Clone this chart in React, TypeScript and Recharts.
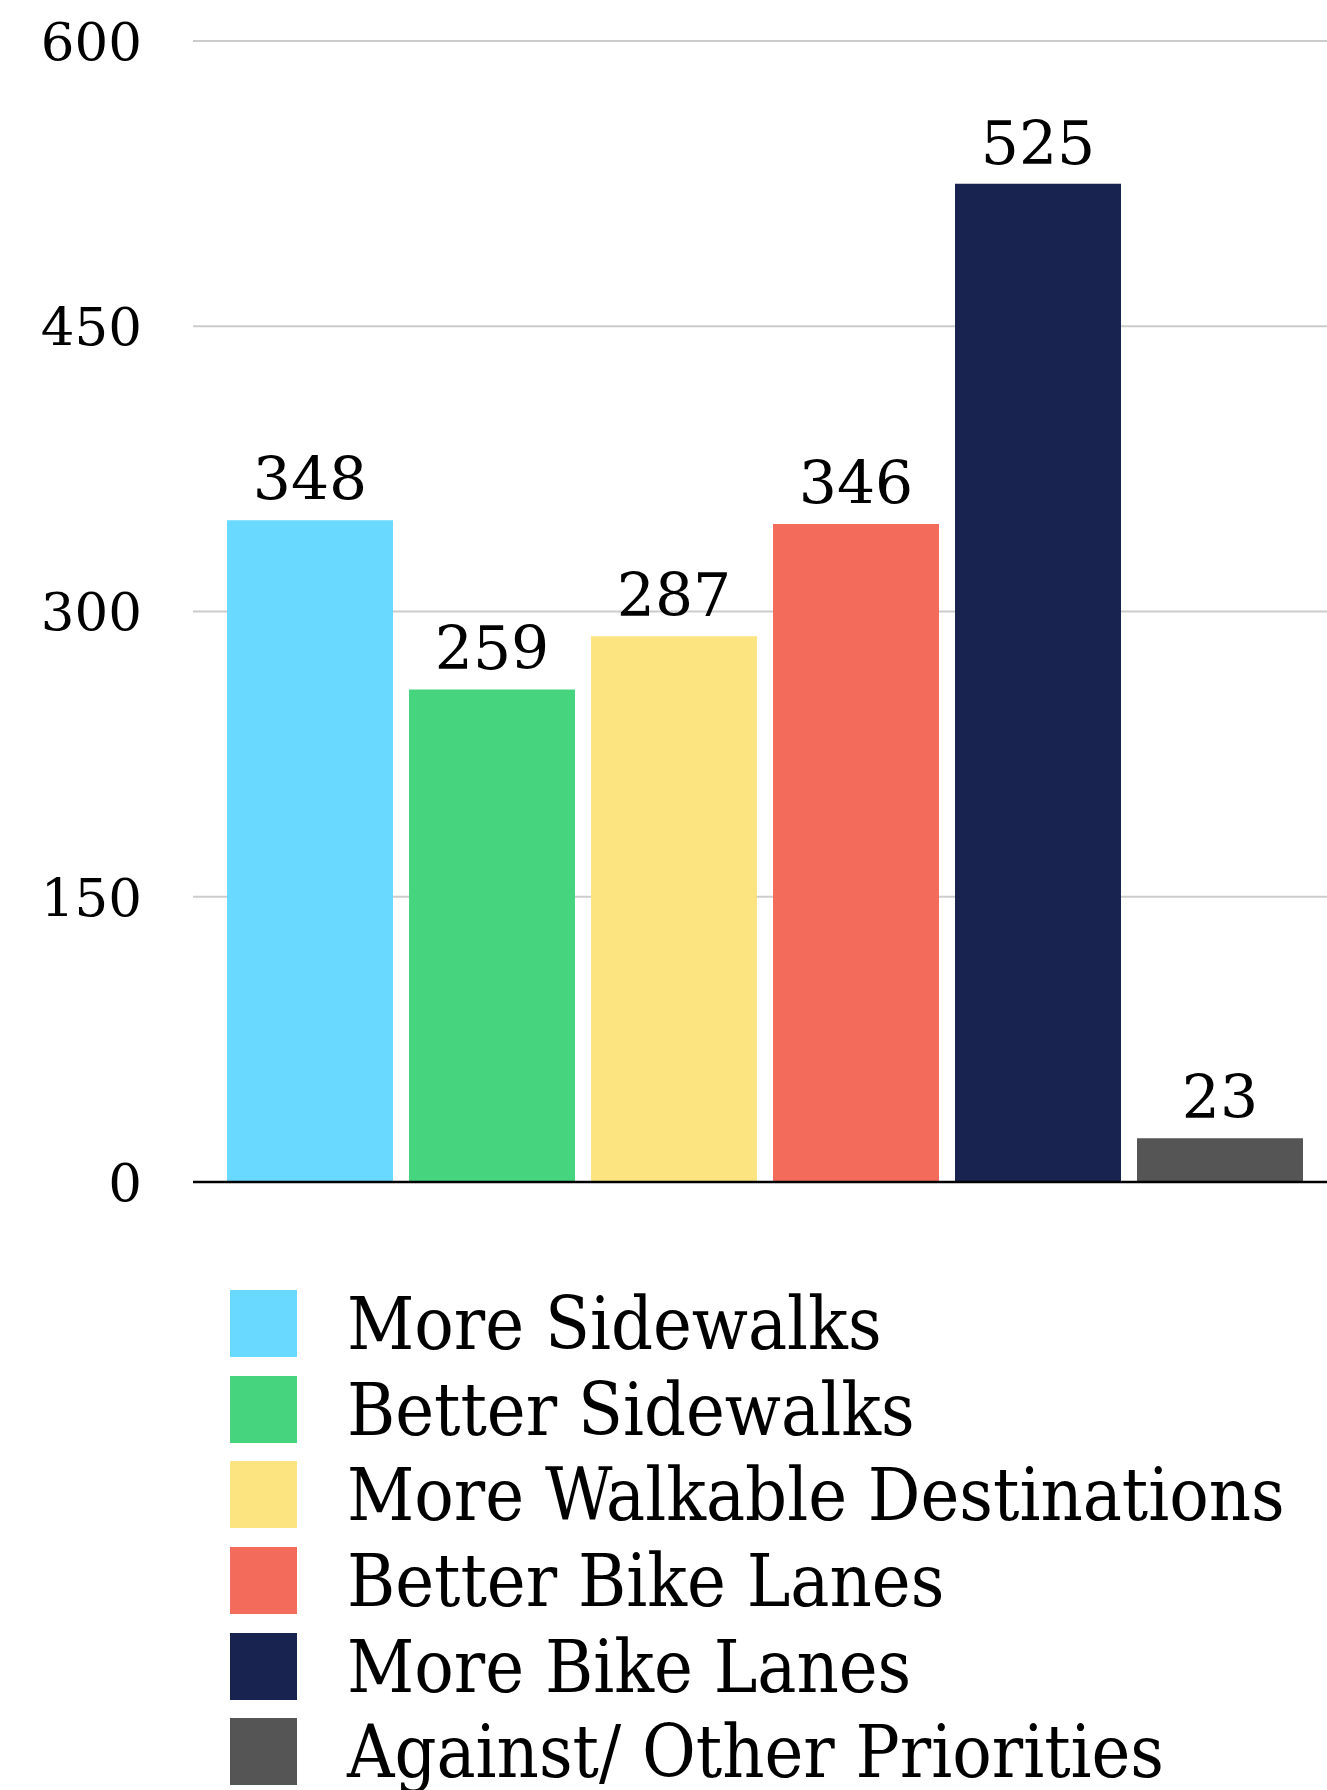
import React from 'react';
import { BarChart, Bar, XAxis, YAxis, CartesianGrid, Cell, LabelList, Legend } from 'recharts';

const categories = [
  'More Sidewalks',
  'Better Sidewalks',
  'More Walkable Destinations',
  'Better Bike Lanes',
  'More Bike Lanes',
  'Against/ Other Priorities',
];
const values = [348, 259, 287, 346, 525, 23];
const colors = ['#69D9FF', '#47D47F', '#FCE580', '#F26B5B', '#18234F', '#555555'];
const yTicks = [0, 150, 300, 450, 600];

const data = categories.map((name, i) => ({ name, value: values[i] }));

const FONT = "'DejaVu Serif', serif";
const LEGEND_FONT = "'DejaVu Serif Condensed', 'DejaVu Serif', serif";

const LegendContent = () => (
  <div style={{ display: 'flex', flexDirection: 'column' }}>
    {categories.map((c, i) => (
      <div key={c} style={{ height: 85.6, display: 'flex', alignItems: 'center' }}>
        <div style={{ width: 67, height: 67, background: colors[i], flex: 'none' }} />
        <div
          style={{
            marginLeft: 50,
            fontFamily: LEGEND_FONT,
            fontStretch: 'condensed',
            fontSize: 73,
            lineHeight: 1,
            color: '#000',
            whiteSpace: 'nowrap',
          }}
        >
          {c}
        </div>
      </div>
    ))}
  </div>
);

export default function App() {
  return (
    <div style={{ position: 'absolute', left: 0, top: 0, width: 1327, height: 1790, overflow: 'hidden', background: '#fff' }}>
      <BarChart
        width={1327}
        height={1790}
        data={data}
        margin={{ top: 41, right: 0, bottom: 578, left: 0 }}
      >
        <CartesianGrid horizontal vertical={false} stroke="#cccccc" strokeWidth={2} />
        <XAxis
          dataKey="name"
          tick={false}
          tickLine={false}
          axisLine={{ stroke: '#000', strokeWidth: 2.5 }}
          height={30}
          padding={{ left: 26, right: 16 }}
        />
        <YAxis
          width={193}
          domain={[0, 600]}
          ticks={yTicks}
          interval={0}
          tickLine={false}
          axisLine={false}
          tickMargin={45}
          tick={{ fontFamily: FONT, fontSize: 53, fill: '#000' }}
        />
        <Legend
          layout="vertical"
          align="center"
          verticalAlign="middle"
          content={<LegendContent />}
          wrapperStyle={{ position: 'absolute', left: 230, top: 1281, width: 1090, height: 520 }}
        />
        <Bar dataKey="value" barSize={166} isAnimationActive={false}>
          {data.map((d, i) => (
            <Cell key={d.name} fill={colors[i]} />
          ))}
          <LabelList
            dataKey="value"
            position="top"
            offset={20}
            style={{ fontFamily: FONT, fontSize: 60, fill: '#000' }}
          />
        </Bar>
      </BarChart>
    </div>
  );
}
